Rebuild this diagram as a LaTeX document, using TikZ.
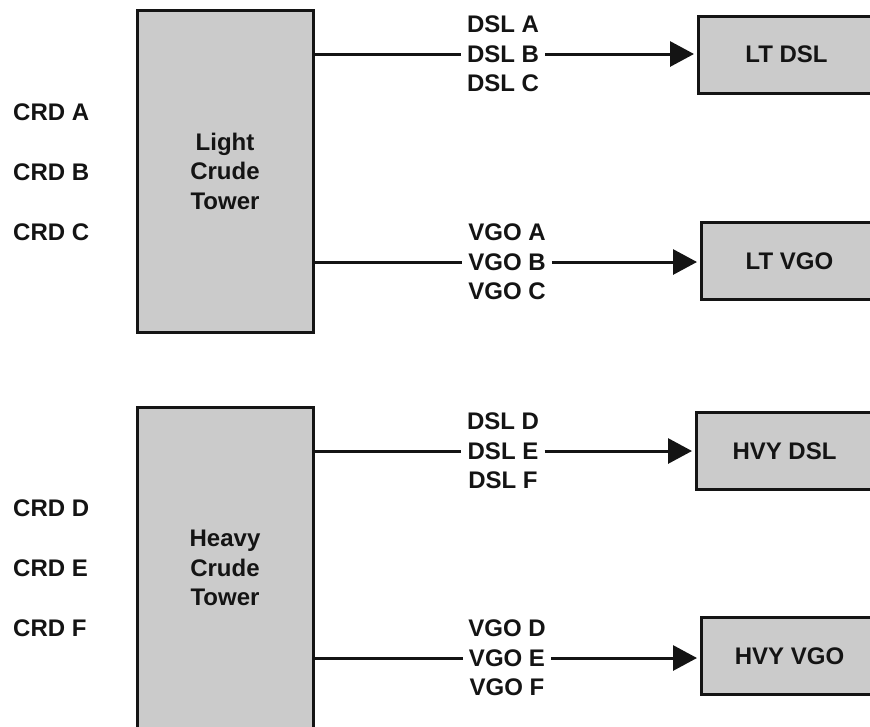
\documentclass[tikz,border=0pt]{standalone}
\usepackage{fontspec}
\setmainfont{Liberation Sans}
\usetikzlibrary{arrows.meta}
\definecolor{boxgray}{RGB}{203,203,203}
\definecolor{ink}{RGB}{20,20,20}
\begin{document}
\begin{tikzpicture}[x=1pt,y=-1pt,
  every node/.style={font=\bfseries\fontsize{24}{29.5}\selectfont, text=ink},
  box/.style={draw=ink, line width=3pt, fill=boxgray, inner sep=0pt, align=center},
  tower/.style={box, minimum width=176pt, minimum height=322pt},
  outbox/.style={box, anchor=west, minimum width=176pt, minimum height=77pt},
  conn/.style={line width=3pt, draw=ink},
  arr/.style={conn, -{Triangle[length=24pt,width=25pt]}, shorten >=3pt},
  stream/.style={fill=white, inner xsep=6pt, inner ysep=1pt},
  feed/.style={anchor=west, inner sep=0pt}]
\useasboundingbox (0,0) rectangle (870,726);
\clip (0,0) rectangle (870,726);

% towers
\node[tower] (tower1) at (225,171) {Light\\Crude\\Tower};
\node[tower] (tower2) at (225,568) {Heavy\\Crude\\Tower};

% feeds
\node[feed] (crdA) at (13,112) {CRD A};
\node[feed] (crdB) at (13,172) {CRD B};
\node[feed] (crdC) at (13,232) {CRD C};
\node[feed] (crdD) at (13,508) {CRD D};
\node[feed] (crdE) at (13,568) {CRD E};
\node[feed] (crdF) at (13,628) {CRD F};

% product boxes
\node[outbox] (ltdsl) at (697,54.5) {LT DSL};
\node[outbox] (ltvgo) at (700,261) {LT VGO};
\node[outbox] (hvydsl) at (695,451) {HVY DSL};
\node[outbox] (hvyvgo) at (700,656) {HVY VGO};

% stream labels
\node[stream] (dslA) at (503,24.5) {DSL A};
\node[stream] (dslB) at (503,54) {DSL B};
\node[stream] (dslC) at (503,83.5) {DSL C};

\node[stream] (vgoA) at (507,232.5) {VGO A};
\node[stream] (vgoB) at (507,262) {VGO B};
\node[stream] (vgoC) at (507,291.5) {VGO C};

\node[stream] (dslD) at (503,421.5) {DSL D};
\node[stream] (dslE) at (503,451) {DSL E};
\node[stream] (dslF) at (503,480.5) {DSL F};

\node[stream] (vgoD) at (507,628.5) {VGO D};
\node[stream] (vgoE) at (507,658) {VGO E};
\node[stream] (vgoF) at (507,687.5) {VGO F};

% connectors
\draw[conn] (tower1.east |- dslB) -- (dslB.west);
\draw[arr] (dslB.east) -- (dslB.east -| ltdsl.west);
\draw[conn] (tower1.east |- vgoB) -- (vgoB.west);
\draw[arr] (vgoB.east) -- (vgoB.east -| ltvgo.west);
\draw[conn] (tower2.east |- dslE) -- (dslE.west);
\draw[arr] (dslE.east) -- (dslE.east -| hvydsl.west);
\draw[conn] (tower2.east |- vgoE) -- (vgoE.west);
\draw[arr] (vgoE.east) -- (vgoE.east -| hvyvgo.west);
\end{tikzpicture}
\end{document}
